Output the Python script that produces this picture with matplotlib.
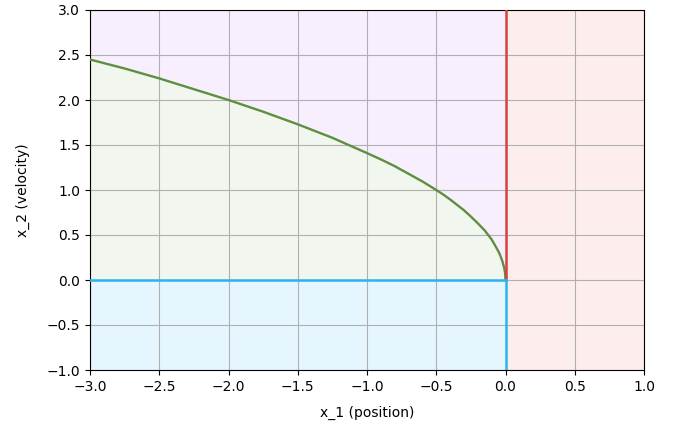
import matplotlib
matplotlib.use("Agg")
import matplotlib.pyplot as plt
import numpy as np

# Boundary curve
curve_x1 = [-3.0, -2.75, -2.5, -2.25, -2.0, -1.75, -1.5, -1.25, -1.0, -0.9, -0.8,
            -0.7, -0.6, -0.5, -0.45, -0.4, -0.35, -0.3, -0.25, -0.2, -0.15,
            -0.1, -0.07, -0.045, -0.025, -0.01, -0.003, 0.0]
curve_x2 = [2.45, 2.35, 2.24, 2.12, 2.0, 1.87, 1.73, 1.58, 1.41, 1.34, 1.265,
            1.18, 1.095, 1.0, 0.95, 0.895, 0.835, 0.775, 0.705, 0.63, 0.55,
            0.45, 0.37, 0.30, 0.22, 0.14, 0.08, 0.0]

x_lim = [-3.0, 1.0]
y_lim = [-1.0, 3.0]
x_ticks = [-3.0, -2.5, -2.0, -1.5, -1.0, -0.5, 0.0, 0.5, 1.0]
y_ticks = [-1.0, -0.5, 0.0, 0.5, 1.0, 1.5, 2.0, 2.5, 3.0]

fig = plt.figure(figsize=(6.81, 4.30), dpi=100)
ax = fig.add_axes([90/681, 60/430, 554/681, 360/430])

cx = np.array(curve_x1)
cy = np.array(curve_x2)

# regions
ax.fill_between(cx, cy, y_lim[1], color="#f7effd", lw=0)
ax.fill_between(cx, 0, cy, color="#f1f7ee", lw=0)
ax.fill_between([x_lim[0], 0], y_lim[0], 0, color="#e5f6fe", lw=0)
ax.fill_between([0, x_lim[1]], y_lim[0], y_lim[1], color="#feeded", lw=0)

# boundaries
ax.plot(cx, cy, color="#5e8f3f", lw=1.7, zorder=3)
ax.plot([0, 0], [0, y_lim[1]], color="#d9413c", lw=1.8, zorder=3)
ax.plot([x_lim[0], 0], [0, 0], color="#29b4ef", lw=1.8, zorder=3)
ax.plot([0, 0], [y_lim[0], 0], color="#29b4ef", lw=1.8, zorder=3)

ax.set_xlim(x_lim)
ax.set_ylim(y_lim)
ax.set_xticks(x_ticks)
ax.set_yticks(y_ticks)
ax.grid(True, color="#b0b0b0", lw=0.8)
ax.set_xlabel("x_1 (position)", labelpad=9)
ax.set_ylabel("x_2 (velocity)", labelpad=12)
ax.set_title("Velocity Safety Set", fontsize=12, pad=10)

fig.savefig("out.png", dpi=100)
